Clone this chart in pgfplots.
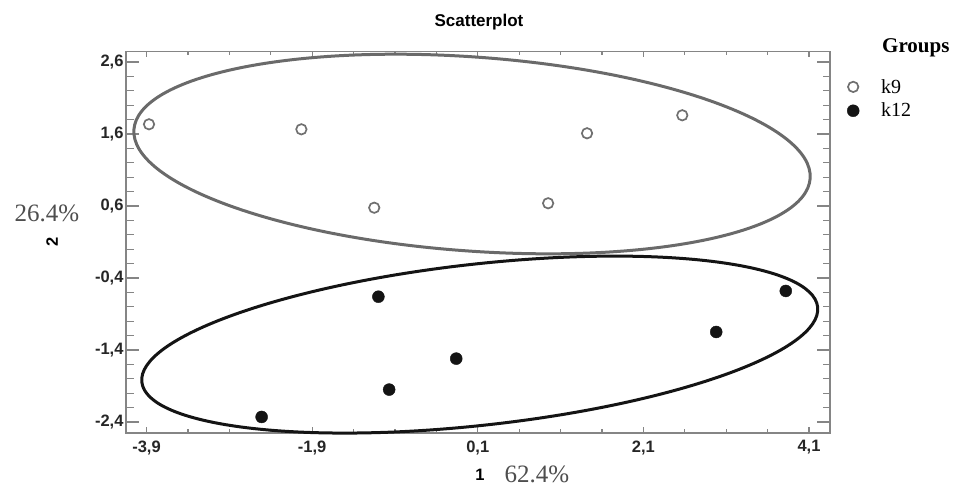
\documentclass[border=0pt]{standalone}
\usepackage{fontspec}
\setmainfont{Liberation Serif}
\newfontfamily\sansc{Liberation Sans}
\usepackage{pgfplots}
\pgfplotsset{compat=1.18}
\definecolor{axgray}{HTML}{858585}
\definecolor{ellgray}{HTML}{6A6A6A}
\definecolor{mgray}{HTML}{707070}
\definecolor{ink}{HTML}{141414}
\definecolor{pctgray}{HTML}{4E4E4E}

\pgfplotstableread{
x y
-3.87 1.735
-2.03 1.665
-1.15 0.576
0.95 0.638
1.42 1.61
2.57 1.86
}\kNine
\pgfplotstableread{
x y
-2.51 -2.33
-1.10 -0.66
-0.97 -1.95
-0.16 -1.52
2.98 -1.15
3.82 -0.58
}\kTwelve

\begin{document}
\begin{tikzpicture}
\path[use as bounding box] (-126pt,-53pt) rectangle (831pt,433pt);
\begin{axis}[
  scale only axis,
  width=704pt, height=381.5pt,
  xmin=-4.148, xmax=4.354,
  ymin=-2.553, ymax=2.746,
  clip=false,
  axis line style={draw=axgray, line width=1.4pt},
  tick align=inside,
  tick style={draw=axgray, line width=1.2pt},
  xtick={-3.9,-1.9,0.1,2.1,4.1},
  xticklabels={{-3,9},{-1,9},{0,1},{2,1},{4,1}},
  ytick={-2.4,-1.4,-0.4,0.6,1.6,2.6},
  yticklabels={{-2,4},{-1,4},{-0,4},{0,6},{1,6},{2,6}},
  minor x tick num=3,
  minor y tick num=4,
  xtick style={/pgfplots/major tick length=6pt, /pgfplots/minor tick length=3.5pt},
  ytick style={/pgfplots/major tick length=13pt, /pgfplots/minor tick length=7.5pt},
  tick label style={font=\sansc\bfseries\fontsize{16.5}{19}\selectfont, text=black!85},
  xticklabel style={yshift=-4pt},
  yticklabel style={xshift=1pt},
  legend style={draw=none, fill=none, at={(axis description cs:1,1)}, anchor=north west,
    xshift=17pt, yshift=-25.5pt, font=\fontsize{20}{24}\selectfont,
    legend cell align=left, row sep=4.5pt, inner sep=0pt},
  legend image code/.code={\path[draw=none, fill=none] (-6pt,-2pt) rectangle (26pt,2pt); \draw[#1] plot coordinates {(0pt,0pt)};},
]
\addplot[only marks, mark=o, mark size=5.2pt, draw=mgray, mark options={line width=1.7pt}] table {\kNine};
\addlegendentry{k9}
\addplot[only marks, mark=*, mark size=6pt, draw=ink, fill=ink] table {\kTwelve};
\addlegendentry{k12}
\coordinate (gc) at (axis cs:0.031,1.322);
\coordinate (bc) at (axis cs:0.124,-1.325);
\end{axis}
\begin{scope}[shift={(gc)}, rotate=-4.14]
  \draw[ellgray, line width=3pt] (0,0) ellipse [x radius=339pt, y radius=97pt];
\end{scope}
\begin{scope}[shift={(bc)}, rotate=6.34]
  \draw[ink, line width=3pt] (0,0) ellipse [x radius=340pt, y radius=80.6pt];
\end{scope}
\node[anchor=west, inner sep=0pt, font=\bfseries\fontsize{21}{24}\selectfont] at (756pt,385pt) {Groups};
\node[font=\sansc\bfseries\fontsize{17}{20}\selectfont] at (353pt,411pt) {Scatterplot};
\node[font=\sansc\bfseries\fontsize{16.5}{19}\selectfont] at (354pt,-42pt) {1};
\node[font=\fontsize{25}{28}\selectfont, text=pctgray] at (411pt,-41pt) {62.4\%};
\node[font=\fontsize{25}{28}\selectfont, text=pctgray] at (-79pt,220pt) {26.4\%};
\node[font=\sansc\bfseries\fontsize{16.5}{19}\selectfont, rotate=90] at (-74pt,191pt) {2};
\end{tikzpicture}
\end{document}
